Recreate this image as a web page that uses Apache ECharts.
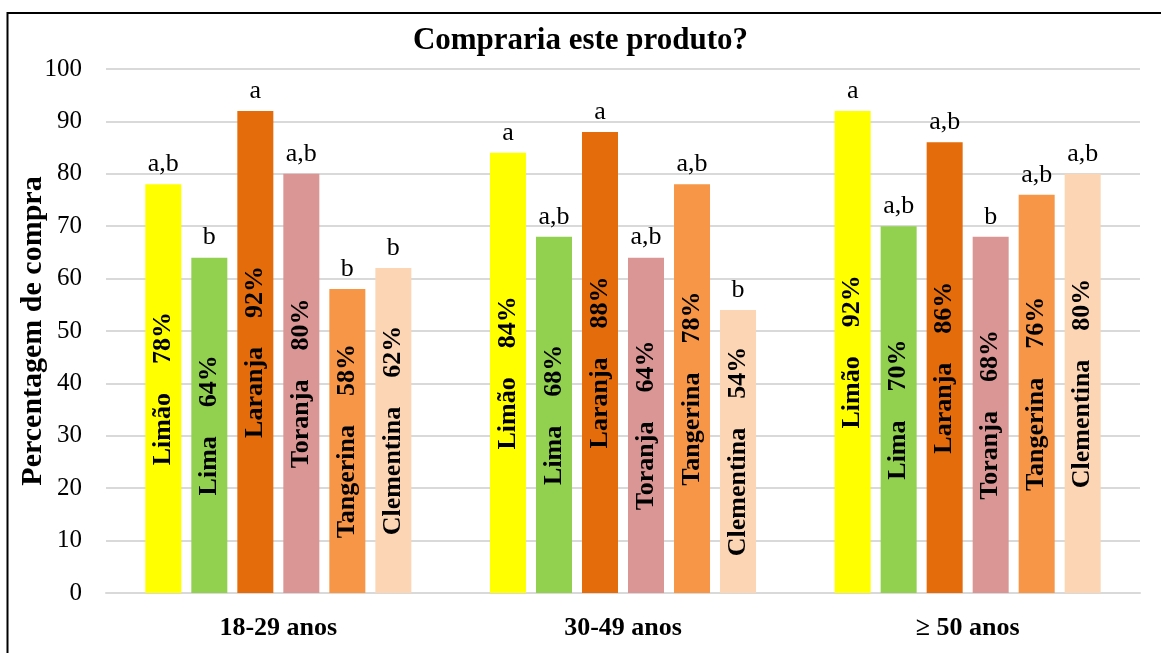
<!DOCTYPE html>
<html lang="pt">

<head>
    <meta charset="UTF-8">
    <title>Compraria este produto?</title>
    <script src="https://cdn.jsdelivr.net/npm/echarts@6/dist/echarts.min.js"></script>
    <style>
        html, body { margin: 0; padding: 0; background: #fff; }
        #chart { width: 1161px; height: 653px; }
    </style>
</head>

<body>
    <div id="chart"></div>
    <script>
        // dados do gráfico
        var categorias = ['18-29 anos', '30-49 anos', '≥ 50 anos'];
        var frutas = ['Limão', 'Lima', 'Laranja', 'Toranja', 'Tangerina', 'Clementina'];
        var cores = ['#FFFF00', '#92D050', '#E46C0A', '#DA9694', '#F79646', '#FCD5B4'];
        // percentagem de compra por fruta (18-29, 30-49, >=50)
        var limao = [78, 84, 92];
        var lima = [64, 68, 70];
        var laranja = [92, 88, 86];
        var toranja = [80, 64, 68];
        var tangerina = [58, 78, 76];
        var clementina = [62, 54, 80];
        // letras de significância por fruta
        var letrasLimao = ['a,b', 'a', 'a'];
        var letrasLima = ['b', 'a,b', 'a,b'];
        var letrasLaranja = ['a', 'a', 'a,b'];
        var letrasToranja = ['a,b', 'a,b', 'b'];
        var letrasTangerina = ['b', 'a,b', 'a,b'];
        var letrasClementina = ['b', 'b', 'a,b'];
        var yTicks = [0, 10, 20, 30, 40, 50, 60, 70, 80, 90, 100];

        var valores = [limao, lima, laranja, toranja, tangerina, clementina];
        var letras = [letrasLimao, letrasLima, letrasLaranja, letrasToranja, letrasTangerina, letrasClementina];

        var fonte = 'Liberation Serif, Times New Roman, serif';
        var series = [];
        frutas.forEach(function(nome, i) {
            // barra principal com rótulo vertical
            series.push({
                name: nome,
                type: 'bar',
                stack: 's' + i,
                stackStrategy: 'all',
                barWidth: 36,
                barGap: '27.8%',
                data: valores[i],
                itemStyle: { color: cores[i] },
                label: {
                    show: true,
                    position: 'inside',
                    rotate: 90,
                    align: 'center',
                    verticalAlign: 'middle',
                    formatter: function(p) {
                        return '{n|' + nome + '}{v|' + p.value + '%}';
                    },
                    rich: {
                        n: { fontFamily: fonte, fontWeight: 'bold', fontSize: 26, color: '#000' },
                        v: { fontFamily: fonte, fontWeight: 'bold', fontSize: 26, color: '#000', padding: [0, 0, 0, 29] }
                    }
                },
                emphasis: { disabled: true }
            });
            // barra vazia só para as letras acima
            series.push({
                name: nome + '_letra',
                type: 'bar',
                stack: 's' + i,
                stackStrategy: 'all',
                barWidth: 36,
                data: valores[i].map(function() { return 0; }),
                itemStyle: { color: 'transparent' },
                label: {
                    show: true,
                    position: 'top',
                    distance: 7,
                    fontFamily: fonte,
                    fontSize: 26,
                    color: '#000',
                    formatter: function(p) {
                        return letras[i][p.dataIndex];
                    }
                },
                emphasis: { disabled: true }
            });
        });

        var chart = echarts.init(document.getElementById('chart'));
        chart.setOption({
            backgroundColor: '#FFFFFF',
            animation: false,
            title: {
                text: 'Compraria este produto?',
                left: 'center',
                top: 20,
                textStyle: { fontFamily: fonte, fontWeight: 'bold', fontSize: 31, color: '#000' }
            },
            graphic: [{
                type: 'rect',
                shape: { x: 7.5, y: 13, width: 1300, height: 800 },
                style: { fill: null, stroke: '#000', lineWidth: 2 },
                silent: true
            }],
            grid: { left: 106, right: 21, top: 69, bottom: 60, outerBoundsMode: 'none', containLabel: false },
            xAxis: {
                type: 'category',
                data: categorias,
                axisTick: { show: false },
                axisLine: { lineStyle: { color: '#D9D9D9', width: 2 } },
                axisLabel: {
                    margin: 22,
                    fontFamily: fonte,
                    fontWeight: 'bold',
                    fontSize: 26,
                    color: '#000'
                }
            },
            yAxis: {
                type: 'value',
                min: yTicks[0],
                max: yTicks[yTicks.length - 1],
                interval: 10,
                name: 'Percentagem de compra',
                nameLocation: 'middle',
                nameGap: 58,
                nameMoveOverlap: false,
                nameTextStyle: { fontFamily: fonte, fontWeight: 'bold', fontSize: 30, color: '#000' },
                axisLine: { show: false },
                axisTick: { show: false },
                splitLine: { lineStyle: { color: '#D9D9D9', width: 2 } },
                axisLabel: {
                    margin: 24,
                    fontFamily: fonte,
                    fontSize: 25,
                    color: '#000'
                }
            },
            series: series
        });
    </script>
</body>

</html>
